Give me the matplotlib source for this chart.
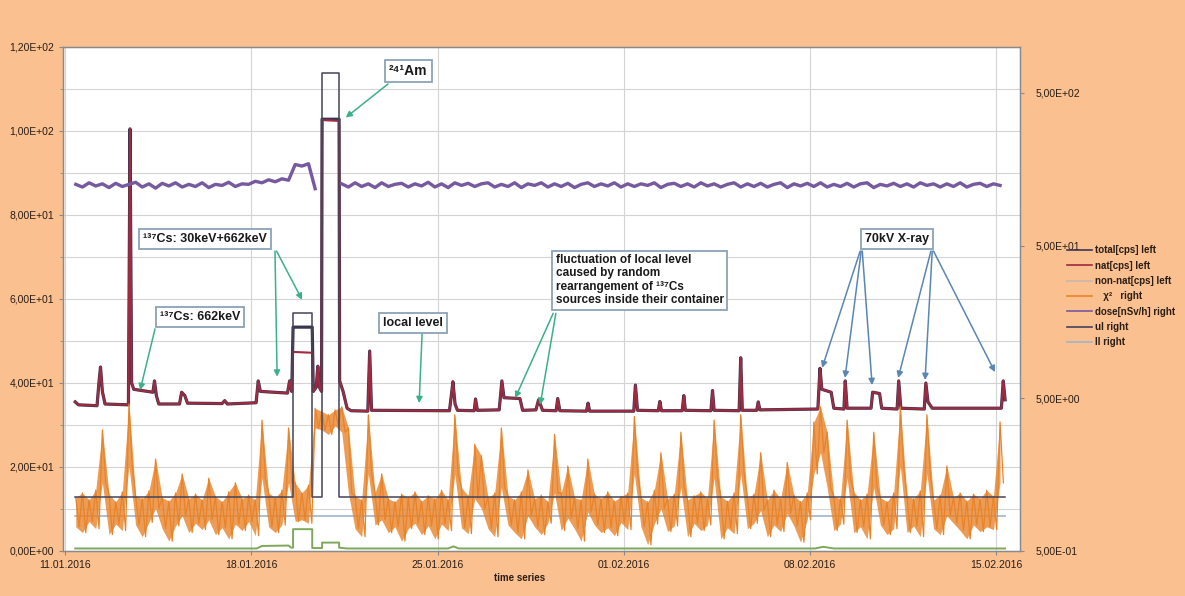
import numpy as np
import matplotlib
matplotlib.use('Agg')
import matplotlib.pyplot as plt
import matplotlib.dates as mdates
from matplotlib.ticker import FixedLocator, FuncFormatter, MultipleLocator, NullLocator
from matplotlib.lines import Line2D

plt.rcParams['font.family'] = ['Liberation Sans', 'DejaVu Sans']

# ---- time axis ----
start_date = '2016-01-11'
tick_days = [0, 7, 14, 21, 28, 35]   # 11.01. ... 15.02.2016
sample_start = 0.4     # days after start_date of first regular sample
sample_step = 0.25     # days between regular samples

# ---- nat[cps] (left axis), breakpoints: days after start, cps ----
nat_days = [0.38, 0.5, 1.2, 1.27, 1.33, 1.4, 1.5, 2.38, 2.44, 2.5, 2.58, 3.3, 3.36, 3.43, 3.52,
            4.3, 4.38, 4.5, 4.6, 5.9, 6.0, 6.1, 7.18, 7.26, 7.34, 8.36, 8.44, 8.52, 8.57, 9.29,
            9.33, 9.44, 9.5, 9.56, 9.64, 9.66, 10.3, 10.32, 10.45, 10.6, 10.75, 11.38, 11.45,
            11.52, 14.45, 14.52, 14.58, 14.66, 14.75, 15.38, 15.43, 15.5, 16.32, 16.42, 16.5,
            17.1, 17.2, 17.7, 17.8, 17.95, 18.46, 18.52, 18.6, 19.6, 19.66, 19.72, 21.38, 21.44,
            21.52, 22.3, 22.36, 22.42, 23.2, 23.26, 23.32, 24.28, 24.34, 24.4, 25.34, 25.4, 25.46,
            26.0, 26.06, 26.12, 28.3, 28.38, 28.45, 28.8, 28.9, 29.28, 29.33, 29.4, 30.3, 30.36,
            30.62, 30.7, 31.28, 31.34, 31.42, 32.3, 32.36, 32.44, 32.6, 35.2, 35.27, 35.34]
nat_vals = [35.5, 34.8, 34.6, 40.0, 43.8, 38.0, 35.0, 34.8, 100.5, 40.0, 38.5, 37.8, 40.5, 37.0, 35.0,
            35.0, 37.8, 37.0, 35.2, 35.1, 35.8, 35.0, 35.3, 40.5, 38.0, 37.6, 40.5, 38.0, 47.4, 47.2,
            38.0, 39.0, 44.0, 39.0, 38.0, 102.6, 102.4, 40.5, 38.0, 34.0, 33.4, 33.3, 47.6,
            33.5, 33.4, 37.0, 40.3, 35.0, 33.5, 33.4, 36.2, 33.5, 33.6, 40.5, 36.5,
            36.3, 33.5, 33.6, 36.0, 33.5, 33.4, 36.3, 33.4, 33.3, 35.2, 33.3, 33.3, 39.5,
            33.5, 33.4, 35.6, 33.4, 33.4, 37.0, 33.5, 33.4, 38.2, 33.5, 33.4, 46.0, 33.5,
            33.5, 35.5, 33.6, 33.8, 43.5, 38.5, 37.8, 34.0, 33.8, 40.5, 34.0, 34.0, 37.8,
            37.5, 34.0, 33.8, 40.5, 34.0, 33.8, 40.0, 35.5, 34.0, 34.0, 40.5, 36.0]

# total[cps] follows nat except during the two source placements
cs_window = (8.57, 9.29)
am_window = (9.66, 10.30)
total_cs_level = 53.3
total_am_level = 102.8

# ---- non-nat[cps] (left axis) ----
nonnat_days = [0.38, 7.2, 7.4, 8.4, 8.5, 8.57, 8.57, 9.29, 9.29, 9.66, 9.66, 10.3, 10.3, 10.6,
               14.4, 14.6, 14.8, 28.2, 28.5, 28.9, 35.34]
nonnat_vals = [0.6, 0.6, 1.2, 1.3, 0.8, 0.8, 5.2, 5.2, 0.7, 0.7, 2.0, 2.0, 0.8, 0.6,
               0.6, 1.1, 0.6, 0.6, 1.0, 0.6, 0.6]

# ---- chi^2 (right axis): upper / lower envelope per regular sample ----
chi_hi = [1.12, 1.20, 1.08, 1.25, 3.10, 1.18, 1.05, 1.22, 4.60, 1.15,
          1.10, 1.24, 2.00, 1.12, 1.06, 1.20, 1.60, 1.10, 1.18, 1.08,
          1.50, 1.14, 1.05, 1.22, 1.40, 1.10, 1.16, 1.08, 3.60, 1.20,
          1.12, 1.25, 3.20, 1.40, 1.20, 1.35, 4.30, 4.10, 3.90, 4.20,
          4.40, 3.20, 1.15, 1.08, 3.90, 1.20, 1.60, 1.10, 1.05, 1.18,
          1.12, 1.22, 1.06, 1.15, 1.10, 1.25, 1.08, 3.90, 1.30, 1.15,
          2.50, 2.10, 1.12, 1.20, 3.20, 1.15, 1.08, 1.22, 1.70, 1.10,
          1.16, 1.05, 2.90, 1.20, 1.80, 1.12, 1.08, 2.00, 1.18, 1.10,
          1.22, 1.06, 1.14, 1.20, 3.80, 1.12, 1.05, 1.25, 2.20, 1.10,
          1.18, 3.00, 1.08, 1.15, 1.22, 1.10, 3.60, 1.14, 1.06, 1.20,
          3.90, 1.12, 1.18, 2.20, 1.08, 1.25, 1.10, 1.90, 1.16, 1.05,
          1.20, 3.50, 4.40, 3.00, 1.14, 1.10, 3.60, 1.22, 1.08, 1.18,
          3.00, 1.12, 1.05, 1.20, 4.40, 1.15, 1.10, 1.24, 3.90, 1.08,
          1.16, 1.80, 1.12, 1.20, 1.06, 1.18, 1.10, 1.25, 1.14, 3.50]
chi_lo = [0.72, 0.66, 0.78, 0.70, 1.40, 0.64, 0.75, 0.68, 1.80, 0.74,
          0.62, 0.77, 0.95, 0.70, 0.58, 0.73, 0.85, 0.66, 0.76, 0.69,
          0.80, 0.64, 0.71, 0.60, 0.75, 0.68, 0.78, 0.63, 1.50, 0.72,
          0.66, 0.74, 1.40, 0.78, 0.80, 0.76, 3.20, 3.10, 2.90, 3.30,
          3.00, 1.20, 0.70, 0.62, 1.60, 0.74, 0.80, 0.66, 0.72, 0.58,
          0.70, 0.76, 0.64, 0.73, 0.60, 0.75, 0.68, 1.60, 0.71, 0.65,
          1.10, 0.95, 0.70, 0.62, 1.30, 0.74, 0.66, 0.60, 0.85, 0.72,
          0.64, 0.76, 1.20, 0.68, 0.82, 0.70, 0.58, 0.90, 0.74, 0.66,
          0.71, 0.63, 0.77, 0.69, 1.60, 0.72, 0.55, 0.75, 0.95, 0.67,
          0.73, 1.30, 0.62, 0.76, 0.68, 0.74, 1.50, 0.60, 0.71, 0.65,
          1.60, 0.70, 0.76, 0.92, 0.62, 0.74, 0.67, 0.88, 0.73, 0.57,
          0.80, 1.60, 2.20, 1.30, 0.68, 0.75, 1.50, 0.66, 0.72, 0.60,
          1.30, 0.74, 0.64, 0.70, 1.80, 0.66, 0.73, 0.62, 1.60, 0.70,
          0.64, 0.85, 0.76, 0.68, 0.60, 0.74, 0.67, 0.72, 0.69, 1.40]

# ---- dose[nSv/h] (right axis), per regular sample; None = off scale ----
dose = [126, 121, 129, 123, 127, 120, 128, 122, 126, 130,
        121, 127, 119, 128, 123, 129, 121, 126, 122, 129,
        120, 126, 124, 130, 122, 127, 126, 132, 129, 135,
        131, 137, 134, 170, 166, 172, 118, None, None, None,
        127, 121, 129, 122, 127, 120, 129, 122, 126, 128,
        121, 127, 123, 130, 121, 127, 120, 129, 124, 128,
        122, 127, 129, 121, 126, 122, 129, 120, 127, 124,
        129, 121, 127, 122, 128, 120, 126, 129, 122, 127,
        123, 129, 121, 127, 122, 127, 124, 129, 120, 126,
        128, 122, 127, 121, 129, 123, 127, 121, 126, 129,
        121, 127, 122, 128, 121, 126, 129, 120, 127, 123,
        128, 122, 129, 121, 126, 122, 128, 121, 127, 129,
        120, 126, 123, 128, 122, 127, 121, 129, 124, 127,
        121, 127, 122, 129, 121, 126, 128, 122, 127, 124]

# ---- ul / ll (right axis) ----
ul_days = [0.38, 8.57, 8.57, 9.29, 9.29, 9.66, 9.66, 10.3, 10.3, 35.34]
ul_vals = [1.13, 1.13, 18.1, 18.1, 1.13, 1.13, 675, 675, 1.13, 1.13]
ll_days = [0.38, 35.34]
ll_vals = [0.85, 0.85]

# ---- colours ----
bg = '#FAC08F'
c_total = '#3a3652'
c_nat = '#a02a40'
c_nonnat = '#7fa85a'
c_chi = '#e8832a'
c_dose = '#76599f'
c_ul = '#44445a'
c_ll = '#9fb4c8'
c_arrow = '#3cb088'
c_arrow2 = '#5a86b4'

t0 = mdates.date2num(np.datetime64(start_date))


def to_x(days):
    return t0 + np.asarray(days, dtype=float)


fig = plt.figure(figsize=(11.85, 5.96), dpi=100, facecolor=bg)
ax = fig.add_axes([63 / 1185, 45 / 596, 957 / 1185, 504 / 596])
ax2 = ax.twinx()

# regular sample positions
n = len(dose)
sample_days = sample_start + sample_step * np.arange(n)
chi_x = np.empty(2 * n)
chi_x[0::2] = sample_days
chi_x[1::2] = sample_days + sample_step / 2
chi_y = np.empty(2 * n)
chi_y[0::2] = chi_hi
chi_y[1::2] = chi_lo

nat_d = np.array(nat_days)
nat_v = np.array(nat_vals)
total_v = np.where((nat_d >= cs_window[0]) & (nat_d <= cs_window[1]), total_cs_level, nat_v)
total_v = np.where((nat_d >= am_window[0]) & (nat_d <= am_window[1]), total_am_level, total_v)

# left axis series
ax.plot(to_x(nonnat_days), nonnat_vals, color=c_nonnat, lw=1.4, zorder=3)
ax.plot(to_x(nat_d), total_v, color=c_total, lw=2.3, zorder=4)
ax.plot(to_x(nat_d), nat_v, color=c_nat, lw=1.5, zorder=5)

# right axis series
ax2.plot(to_x(ll_days), ll_vals, color=c_ll, lw=1.2, zorder=1)
ax2.fill_between(to_x(sample_days), chi_lo, chi_hi, color=c_chi, lw=0, alpha=0.8, zorder=2)
ax2.plot(to_x(chi_x), chi_y, color=c_chi, lw=0.9, zorder=2)
ax2.plot(to_x(ul_days), ul_vals, color=c_ul, lw=1.1, zorder=3)
ax2.plot(to_x(sample_days), np.array(dose, dtype=float), color=c_dose, lw=2.4, zorder=4)

# axes formatting
sci = FuncFormatter(lambda v, p: f"{v:.2E}".replace('.', ','))
ax.set_ylim(0, 120)
ax.yaxis.set_major_locator(MultipleLocator(20))
ax.yaxis.set_minor_locator(MultipleLocator(10))
ax.yaxis.set_major_formatter(sci)
ax.set_xlim(t0 - 0.08, t0 + 35.9)
ax.xaxis.set_major_locator(FixedLocator(to_x(tick_days)))
ax.xaxis.set_major_formatter(mdates.DateFormatter('%d.%m.%Y'))
ax.grid(which='both', axis='y', color='#d4d4d4', lw=0.8)
ax.grid(which='major', axis='x', color='#d4d4d4', lw=0.8)
ax.set_axisbelow(True)

ax2.set_yscale('log')
ax2.set_ylim(0.5, 1000)
ax2.yaxis.set_major_locator(FixedLocator([0.5, 5, 50, 500]))
ax2.yaxis.set_minor_locator(NullLocator())
ax2.yaxis.set_major_formatter(sci)

for a in (ax, ax2):
    for s in a.spines.values():
        s.set_color('#8a8a8a')
        s.set_linewidth(0.9)
    a.tick_params(which='both', direction='out', length=3, color='#8a8a8a',
                  labelsize=7.5, labelcolor='#2b1d14')
ax.tick_params(which='minor', length=2)
ax2.tick_params(axis='y', pad=8)

fig.text(520 / 1185, 1 - 578 / 596, 'time series', fontsize=7, fontweight='bold',
         color='#2b1d14', ha='center', va='center')

# annotations
box = dict(boxstyle='square,pad=0.3', fc='white', ec='#8ea2b5', lw=1.3)


def note(text, d, v, size=9, ha='center'):
    ax2.text(t0 + d, v, text, transform=ax.transData, fontsize=size, fontweight='bold',
             ha=ha, va='center', bbox=box, zorder=10, linespacing=1.15, color='#1a1a1a')


def arrow(tail, tip, color=c_arrow):
    ax2.annotate('', xy=(t0 + tip[0], tip[1]), xycoords=ax.transData,
                 xytext=(t0 + tail[0], tail[1]), textcoords=ax.transData,
                 arrowprops=dict(arrowstyle='-|>', color=color, lw=1.1, mutation_scale=9,
                                 shrinkA=0, shrinkB=0), zorder=9)


note('²⁴¹Am', 12.9, 114.3, size=10)
arrow((12.14, 111.2), (10.55, 103.2))

note('¹³⁷Cs: 30keV+662keV', 5.26, 74.3)
arrow((7.89, 71.4), (7.97, 41.5))
arrow((7.95, 71.4), (8.91, 59.8))

note('¹³⁷Cs: 662keV', 5.08, 55.7)
arrow((3.38, 52.9), (2.82, 38.3))

note('local level', 13.08, 54.3)
arrow((13.42, 51.7), (13.31, 35.2))

note('fluctuation of local level\ncaused by random\nrearrangement of ¹³⁷Cs\nsources inside their container',
     18.45, 64.5, size=8.5, ha='left')
arrow((18.35, 56.6), (16.92, 36.4))
arrow((18.45, 56.6), (17.86, 34.8))

note('70kV X-ray', 31.28, 74.3)
for tail, tip in [((29.89, 71.4), (28.46, 43.6)), ((29.93, 71.4), (29.32, 41.2)),
                  ((29.97, 71.4), (30.34, 39.5)), ((32.55, 71.4), (31.32, 41.2)),
                  ((32.6, 71.4), (32.33, 40.7)), ((32.65, 71.4), (34.96, 42.6))]:
    arrow(tail, tip, c_arrow2)

# legend
handles = [Line2D([], [], color=c_total, lw=1.2), Line2D([], [], color=c_nat, lw=1.2),
           Line2D([], [], color='#c9b8b0', lw=1.2), Line2D([], [], color=c_chi, lw=1.2),
           Line2D([], [], color=c_dose, lw=1.2), Line2D([], [], color=c_ul, lw=1.2),
           Line2D([], [], color=c_ll, lw=1.2)]
labels = ['total[cps] left', 'nat[cps] left', 'non-nat[cps] left', '   χ²   right',
          'dose[nSv/h] right', 'ul right', 'll right']
leg = fig.legend(handles, labels, loc='upper left', bbox_to_anchor=(0.893, 0.603),
                 frameon=False, fontsize=7, handlelength=2.6, handletextpad=0.3,
                 labelspacing=0.55)
for t in leg.get_texts():
    t.set_color('#2b1d14')
    t.set_fontweight('bold')

fig.savefig('out.png', dpi=100, facecolor=bg)
